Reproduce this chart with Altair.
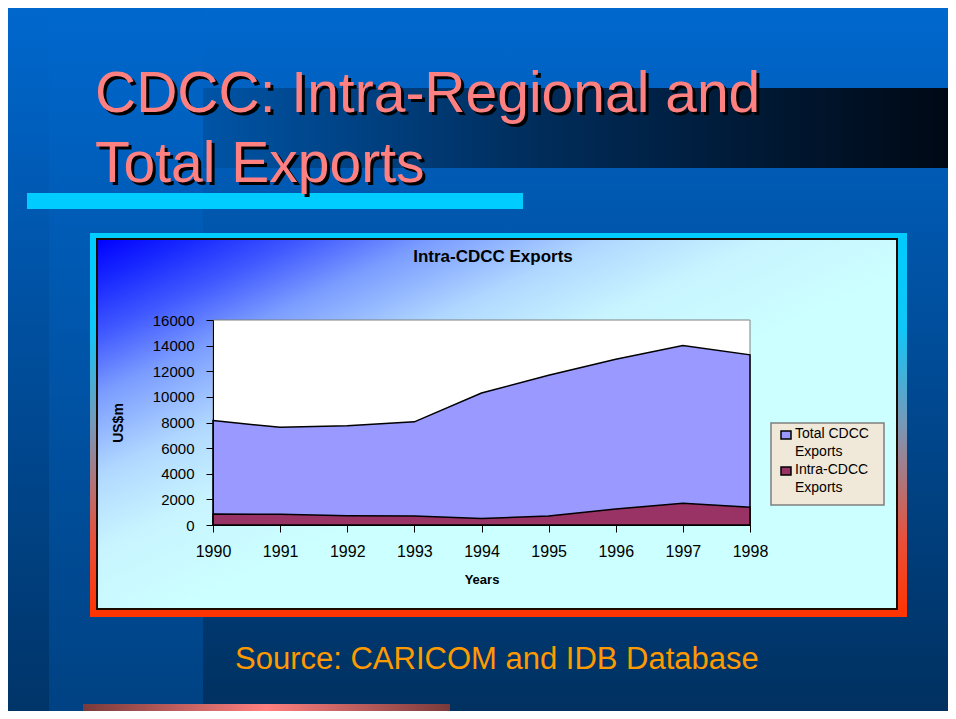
import altair as alt
import pandas as pd

# ---------------- data ----------------
years = ["1990", "1991", "1992", "1993", "1994", "1995", "1996", "1997", "1998"]
total_exports = [8150, 7620, 7740, 8050, 10300, 11680, 12930, 14000, 13280]
intra_exports = [860, 840, 730, 710, 500, 700, 1250, 1690, 1380]
series_names = ["Total CDCC Exports", "Intra-CDCC Exports"]
series_colors = ["#9999FF", "#993366"]
legend_lines = [["Total CDCC", "Exports"], ["Intra-CDCC", "Exports"]]
y_ticks = [0, 2000, 4000, 6000, 8000, 10000, 12000, 14000, 16000]

slide_title_1 = "CDCC: Intra-Regional and"
slide_title_2 = "Total Exports"
chart_title = "Intra-CDCC Exports"
source_note = "Source: CARICOM and IDB Database"

rows = []
for yr, t, i in zip(years, total_exports, intra_exports):
    rows.append({"Year": yr, "Series": series_names[0], "Value": t})
    rows.append({"Year": yr, "Series": series_names[1], "Value": i})
df = pd.DataFrame(rows)

# ---------------- layout helpers ----------------
FONT = "Liberation Sans, Arial, sans-serif"
W, H = 537, 205          # plot area
OX, OY = 213, 320        # plot origin on the page
one = pd.DataFrame({"k": [0]})


def px(x):
    return x - OX


def py(y):
    return y - OY


def lin(stops, x1=0, y1=0, x2=1, y2=0):
    return alt.LinearGradient(
        gradient="linear",
        stops=[alt.GradientStop(offset=o, color=c) for o, c in stops],
        x1=x1, y1=y1, x2=x2, y2=y2,
    )


def box(x1, y1, x2, y2, **mark):
    return alt.Chart(one).mark_rect(**mark).encode(
        x=alt.value(px(x1)), x2=alt.value(px(x2)),
        y=alt.value(py(y1)), y2=alt.value(py(y2)),
    )


def txt(x, y, s, **mark):
    return alt.Chart(one).mark_text(text=s, **mark).encode(
        x=alt.value(px(x)), y=alt.value(py(y))
    )


layers = []
# slide background
layers.append(box(8, 8, 956, 719, fill=lin([(0, "#0068CE"), (0.45, "#004E9C"), (1, "#00305F")], 0, 0, 0, 1)))
layers.append(box(8, 8, 49, 719, fill="#0066CC", opacity=0.08))
layers.append(box(49, 8, 203, 719, fill="#0066CC", opacity=0.33))
# dark band behind title
layers.append(box(203, 88, 956, 168, fill=lin([(0, "#0054A6"), (0.45, "#002C5A"), (0.75, "#001833"), (1, "#000814")])))
# cyan bar
layers.append(box(27, 193, 523, 209, fill="#00CCFF"))
# slide title with shadow
for (lx, ly, s) in [(95, 112, slide_title_1), (95, 182, slide_title_2)]:
    layers.append(txt(lx + 3, ly + 3, s, font=FONT, fontSize=57, fill="#000000", align="left", baseline="alphabetic"))
    layers.append(txt(lx, ly, s, font=FONT, fontSize=57, fill="#FF8080", align="left", baseline="alphabetic"))

# chart frame
layers.append(box(90, 233, 907, 617, fill=lin([(0, "#00CCFF"), (0.25, "#10C6F8"), (0.5, "#7898B8"), (0.8, "#E8503A"), (1, "#FF3300")], 0, 0, 0, 1)))
layers.append(box(97, 239, 897, 609,
                  fill=lin([(0, "#0000FF"), (0.06, "#1828FF"), (0.13, "#4058FF"), (0.21, "#7A9CFF"),
                            (0.27, "#98BCFF"), (0.32, "#B0D8FF"), (0.42, "#C8F4FF"), (0.55, "#CCFFFF"), (1, "#CCFFFF")],
                           0, 0, 1, 1),
                  stroke="#1A0A00", strokeWidth=2))
layers.append(txt(493, 262, chart_title, font=FONT, fontSize=17, fontWeight="bold", fill="#000000", align="center", baseline="alphabetic"))
# plot background
layers.append(box(213, 320, 750, 525, fill="white", stroke="#808080", strokeWidth=1))

# ---------------- data marks ----------------
xaxis = alt.Axis(
    title="Years", labelAngle=0, labelFont=FONT, labelFontSize=16, labelColor="black", labelPadding=11,
    tickSize=7, tickColor="black", domainColor="black", grid=False,
    titleFont=FONT, titleFontSize=13, titleFontWeight="bold", titleColor="black",
    titleX=268.5, titleY=54, titleAlign="center", titleBaseline="middle", zindex=1,
)
yaxis = alt.Axis(
    title="US$m", values=y_ticks, format="d", labelFont=FONT, labelFontSize=15, labelColor="black", labelPadding=12,
    tickSize=7, tickColor="black", domainColor="black", grid=False,
    titleFont=FONT, titleFontSize=14, titleFontWeight="bold", titleColor="black",
    titleX=-95, titleY=102.5, titleAngle=270, titleAlign="center", titleBaseline="middle", zindex=1,
)

base = alt.Chart(df).encode(
    x=alt.X("Year:O", sort=years, scale=alt.Scale(type="point", padding=0), axis=xaxis),
    y=alt.Y("Value:Q", stack=None, scale=alt.Scale(domain=[0, 16000], nice=False), axis=yaxis),
    color=alt.Color("Series:N", scale=alt.Scale(domain=series_names, range=series_colors), legend=None),
)
layers.append(base.transform_filter(alt.datum.Series == series_names[0]).mark_area(stroke="black", strokeWidth=1.5, opacity=1))
layers.append(base.transform_filter(alt.datum.Series == series_names[1]).mark_area(stroke="black", strokeWidth=1.5, opacity=1))

# legend box
layers.append(box(771, 423, 884, 505, fill="#F0E8D8", stroke="#7F7F7F", strokeWidth=1.5))
for k, (sy, lines) in enumerate(zip([431, 467], legend_lines)):
    layers.append(box(781, sy, 791, sy + 8, fill=series_colors[k], stroke="black", strokeWidth=1.5))
    for j, line in enumerate(lines):
        layers.append(txt(795, sy + 7 + j * 18.3, line, font=FONT, fontSize=14, fill="black", align="left", baseline="alphabetic"))

# source and bottom bar
layers.append(txt(235, 669, source_note, font=FONT, fontSize=31, fill="#FF9900", align="left", baseline="alphabetic"))
layers.append(box(83, 704, 450, 719, fill=lin([(0, "#7A3A3A"), (0.5, "#FF8080"), (1, "#7A3A3A")])))

chart = alt.layer(*layers).properties(
    width=W, height=H,
    padding={"left": 205, "top": 312, "right": 198, "bottom": 186},
    autosize=alt.AutoSizeParams(type="none"),
    background="#003366",
).configure_view(strokeWidth=0)

chart.save("out.html", embed_options={"renderer": "svg", "actions": False})
